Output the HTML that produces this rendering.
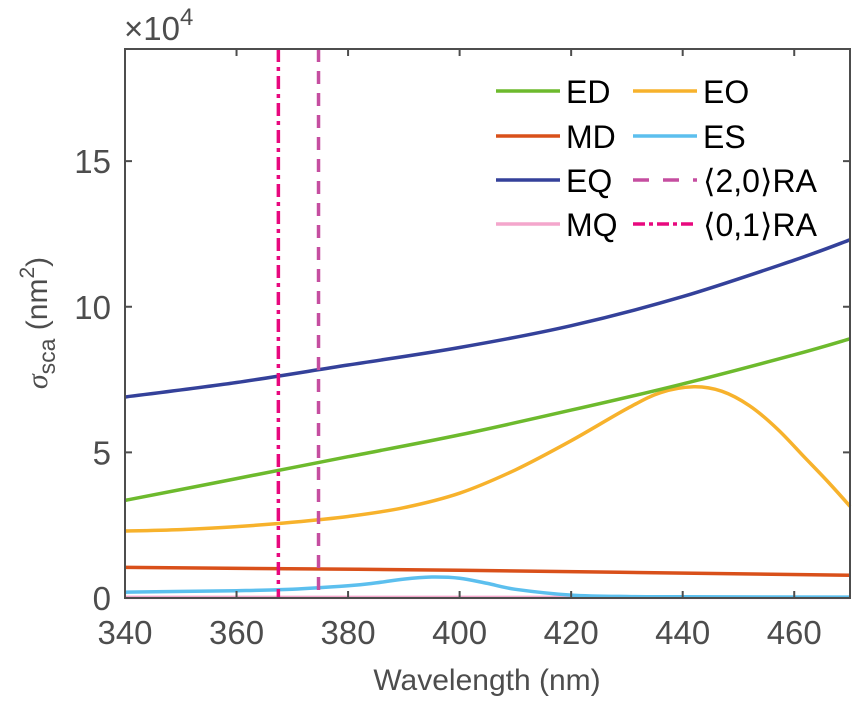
<!DOCTYPE html>
<html><head><meta charset="utf-8"><style>
body{margin:0;background:#fff}
svg text{font-family:"Liberation Sans",sans-serif}
</style></head><body>
<svg id="c" width="852" height="698" xmlns="http://www.w3.org/2000/svg"></svg>
<script>
const xTicks=[340,360,380,400,420,440,460];
const yTicks=[0,5,10,15];
const wlEQ=[340,360,380,400,420,440,460,470];
const valEQ=[6.9,7.4,8.0,8.6,9.35,10.35,11.6,12.3];
const wlED=[340,360,380,400,420,440,460,470];
const valED=[3.35,4.1,4.85,5.6,6.45,7.35,8.35,8.9];
const wlEO=[340,350,360,370,380,390,400,410,420,430,436,442,447,452,457,462,466,470];
const valEO=[2.3,2.35,2.45,2.6,2.8,3.1,3.6,4.4,5.4,6.5,7.05,7.25,7.1,6.6,5.8,4.8,4.0,3.15];
const wlMD=[340,400,470];
const valMD=[1.05,0.95,0.78];
const wlES=[340,360,370,380,385,390,395,400,405,410,420,430,440,470];
const valES=[0.2,0.25,0.3,0.42,0.52,0.65,0.72,0.68,0.5,0.3,0.1,0.05,0.04,0.03];
const wlMQ=[340,470];
const valMQ=[0.02,0.02];
const ra20=[374.7];
const ra01=[367.5];
const L=125,R=850,T=49,B=598,X0=340,X1=470,Y0=0,Y1=18.85;
const sx=v=>L+(v-X0)/(X1-X0)*(R-L);
const sy=v=>B-(v-Y0)/(Y1-Y0)*(B-T);
const svg=document.getElementById('c');
const NS='http://www.w3.org/2000/svg';
function mk(t,a,p){const e=document.createElementNS(NS,t);for(const k in a)e.setAttribute(k,a[k]);(p||svg).appendChild(e);return e;}
function series(xs,ys,col,name){
 const P=xs.map((x,i)=>[sx(x),sy(ys[i])]);
 let d='M'+P[0][0].toFixed(1)+' '+P[0][1].toFixed(1);
 for(let i=0;i<P.length-1;i++){
  const p0=P[Math.max(0,i-1)],p1=P[i],p2=P[i+1],p3=P[Math.min(P.length-1,i+2)];
  const c1=[p1[0]+(p2[0]-p0[0])/6,p1[1]+(p2[1]-p0[1])/6];
  const c2=[p2[0]-(p3[0]-p1[0])/6,p2[1]-(p3[1]-p1[1])/6];
  d+=' C'+c1.map(v=>v.toFixed(1)).join(' ')+' '+c2.map(v=>v.toFixed(1)).join(' ')+' '+p2.map(v=>v.toFixed(1)).join(' ');
 }
 const p=mk('path',{d:d,fill:'none',stroke:col,'stroke-width':3.5});
 
 
}
series(wlMQ,valMQ,'#f4a6cc','series-mq');
series(wlES,valES,'#5cbfee','series-es');
series(wlMD,valMD,'#d9501a','series-md');
series(wlEO,valEO,'#f7b22c','series-eo');
series(wlED,valED,'#6dba2d','series-ed');
series(wlEQ,valEQ,'#34419a','series-eq');
ra20.forEach(v=>{const l=mk('line',{x1:sx(v),x2:sx(v),y1:T,y2:B,stroke:'#c54ea0','stroke-width':3.5,'stroke-dasharray':'13 9'});

});
ra01.forEach(v=>{const l=mk('line',{x1:sx(v),x2:sx(v),y1:T,y2:B,stroke:'#e8087e','stroke-width':3.5,'stroke-dasharray':'13 5 4 5'});

});
const box=mk('rect',{x:L,y:T,width:R-L,height:B-T,fill:'none',stroke:'#4d4d4d','stroke-width':2});


xTicks.forEach(v=>{const x=sx(v);
 mk('line',{x1:x,x2:x,y1:B,y2:B-7,stroke:'#4d4d4d','stroke-width':2});
 mk('line',{x1:x,x2:x,y1:T,y2:T+7,stroke:'#4d4d4d','stroke-width':2});
 const t=mk('text',{x:x,y:B+46,'text-anchor':'middle','font-size':33,fill:'#4d4d4d'});t.textContent=v;
 
 });
yTicks.forEach(v=>{const y=sy(v);
 mk('line',{x1:L,x2:L+7,y1:y,y2:y,stroke:'#4d4d4d','stroke-width':2});
 mk('line',{x1:R,x2:R-7,y1:y,y2:y,stroke:'#4d4d4d','stroke-width':2});
 const t=mk('text',{x:L-14,y:y+12,'text-anchor':'end','font-size':33,fill:'#4d4d4d'});t.textContent=v;
 
 });
</script>
<svg style="position:absolute;left:0;top:0" width="852" height="698">
<text x="124" y="40" font-size="33" fill="#4d4d4d">×10<tspan font-size="24" dy="-15">4</tspan></text>
<text x="487" y="690" text-anchor="middle" font-size="30" fill="#4d4d4d">Wavelength (nm)</text>
<text transform="translate(47,323) rotate(-90)" text-anchor="middle" font-size="30" fill="#4d4d4d"><tspan font-family="Liberation Serif" font-style="italic">σ</tspan><tspan font-size="23" dy="8">sca</tspan><tspan dy="-8"> (nm</tspan><tspan font-size="21" dy="-13">2</tspan><tspan dy="13">)</tspan></text>
<g font-size="32" fill="#000">
<line x1="496" x2="560" y1="91" y2="91" stroke="#6dba2d" stroke-width="3.5"/><text x="566" y="103">ED</text>
<line x1="496" x2="560" y1="136" y2="136" stroke="#d9501a" stroke-width="3.5"/><text x="566" y="148">MD</text>
<line x1="496" x2="560" y1="180" y2="180" stroke="#34419a" stroke-width="3.5"/><text x="566" y="192">EQ</text>
<line x1="496" x2="560" y1="224" y2="224" stroke="#f4a6cc" stroke-width="3.5"/><text x="566" y="236">MQ</text>
<line x1="633" x2="697" y1="91" y2="91" stroke="#f7b22c" stroke-width="3.5"/><text x="703" y="103">EO</text>
<line x1="633" x2="697" y1="136" y2="136" stroke="#5cbfee" stroke-width="3.5"/><text x="703" y="148">ES</text>
<line x1="633" x2="697" y1="180" y2="180" stroke="#c54ea0" stroke-width="3.5" stroke-dasharray="16 14"/><text x="703" y="192">⟨2,0⟩RA</text>
<line x1="633" x2="697" y1="224" y2="224" stroke="#e8087e" stroke-width="3.5" stroke-dasharray="12 4 4 4"/><text x="703" y="236">⟨0,1⟩RA</text>
</g>
</svg>
</body></html>
